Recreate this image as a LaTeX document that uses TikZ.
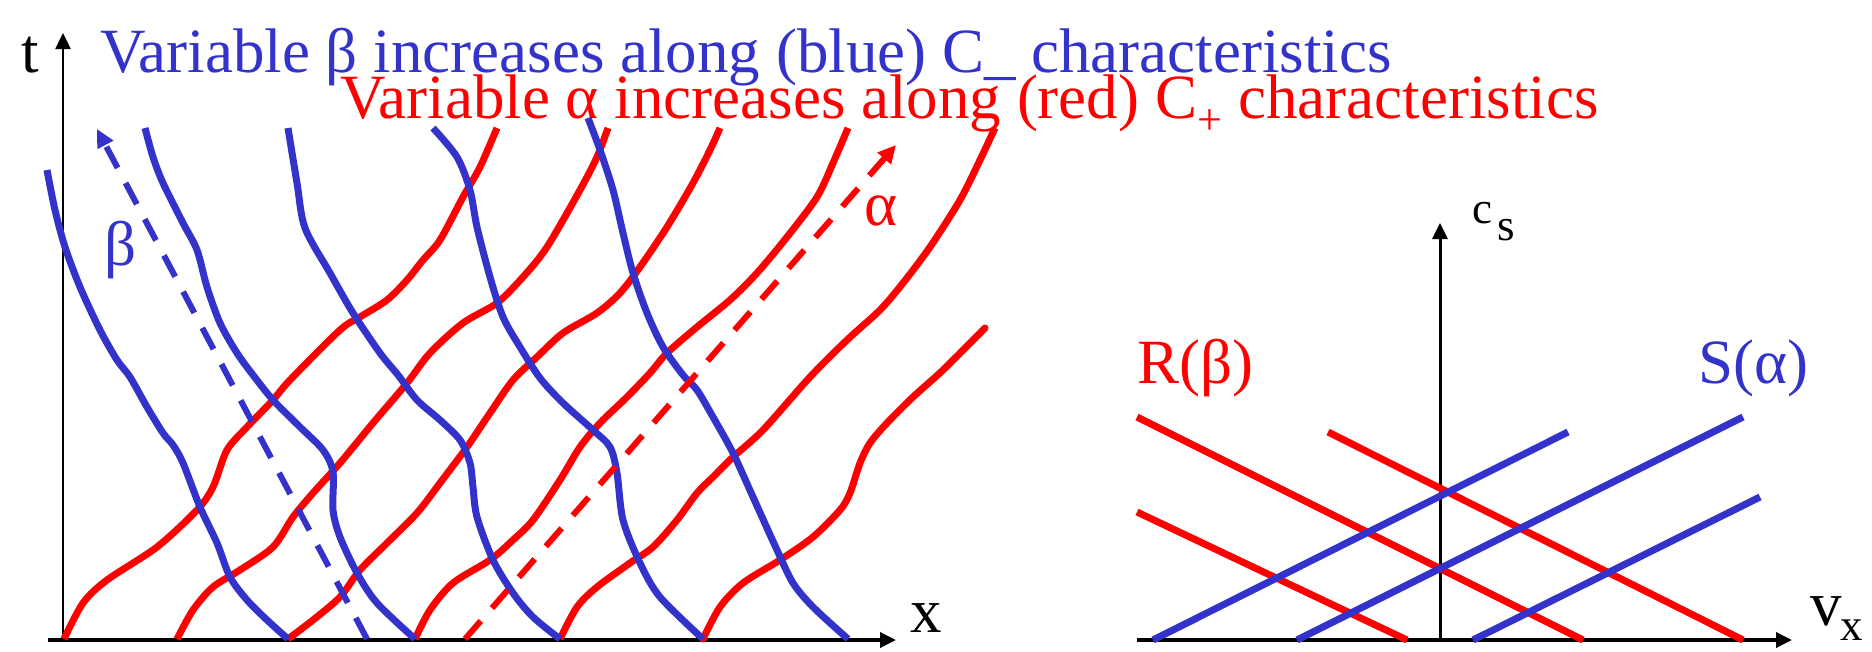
\documentclass[tikz,border=0pt]{standalone}
\usepackage{fontspec}
\setmainfont{Liberation Serif}
\usetikzlibrary{arrows.meta}
\definecolor{cblue}{RGB}{51,51,204}
\definecolor{cred}{RGB}{255,0,0}
\tikzset{
  redc/.style={draw=cred, line width=7pt},
  bluec/.style={draw=cblue, line width=7pt},
  smoothplot/.style={smooth, tension=0.5},
  axisline/.style={draw=black, line width=2.5pt, -{Triangle[length=16pt,width=15pt]}},
  lbl/.style={inner sep=0pt, anchor=base west, font=\fontsize{63}{63}\selectfont},
  sublbl/.style={inner sep=0pt, anchor=base west, font=\fontsize{45}{45}\selectfont},
  dashpat/.style={dash pattern=on 24pt off 17pt},
  rline/.style={line width=7pt}
}
\begin{document}
\begin{tikzpicture}[x=1pt,y=-1pt]
\useasboundingbox (0,0) rectangle (1872,651);

% ---------- left panel axes ----------
\coordinate (yb) at (63,641);
\coordinate (yt) at (63,33);
\coordinate (xl) at (48,640);
\coordinate (xr) at (896,640);
\draw[axisline, line width=2.5pt] (yb) -- (yt);
\draw[axisline, line width=3.5pt] (xl) -- (xr);
\node[lbl] (tl) at (21,72) {t};
\node[lbl] (xlab) at (910,632) {x};

% ---------- titles ----------
\node[lbl, text=cblue] (title1) at (100,72) {Variable β increases along (blue) C\_ characteristics};
\node[lbl, text=cred] (title2) at (340,118) {Variable α increases along (red) C\textsubscript{+} characteristics};

% ---------- red C+ characteristics ----------
\draw[redc] plot[smoothplot] coordinates {(64,639) (83,603) (107,580) (157,547) (197,510) (213,487) (227,450) (247,427) (273,400) (290,380) (340,330) (360,317) (387,300) (407,280) (423,260) (440,240) (463,197) (480,167) (497,128)};
\draw[redc] plot[smoothplot] coordinates {(177,639) (193,610) (213,587) (240,570) (273,547) (293,517) (313,493) (340,463) (373,423) (407,383) (430,353) (463,323) (497,303) (523,277) (547,247) (580,190) (597,157) (608,128)};
\draw[redc] plot[smoothplot] coordinates {(288,639) (313,620) (340,597) (360,570) (387,543) (417,513) (440,483) (467,447) (490,413) (513,380) (537,357) (563,333) (597,313) (620,293) (640,267) (667,227) (693,183) (710,150) (720,128)};
\draw[redc] plot[smoothplot] coordinates {(415,639) (430,610) (453,583) (490,560) (513,540) (533,520) (560,480) (580,447) (600,423) (627,397) (650,373) (667,353) (697,327) (730,300) (757,273) (787,237) (817,197) (833,163) (848,128)};
\draw[redc] plot[smoothplot] coordinates {(560,639) (577,607) (597,587) (630,563) (653,547) (677,520) (697,493) (713,477) (733,457) (763,430) (810,377) (847,340) (880,310) (903,283) (930,247) (960,200) (980,160) (995,128)};
\draw[redc, line cap=round] plot[smoothplot] coordinates {(703,639) (720,607) (743,583) (780,560) (813,537) (840,510) (850,493) (860,463) (870,443) (887,423) (913,397) (943,370) (985,328)};

% ---------- blue C- characteristics ----------
\draw[bluec] plot[smoothplot] coordinates {(47,170) (55,210) (65,247) (80,287) (100,330) (117,360) (130,377) (147,407) (163,433) (173,445) (183,463) (200,507) (217,543) (230,577) (247,600) (267,620) (288,639)};
\draw[bluec] plot[smoothplot] coordinates {(145,128) (153,157) (163,183) (183,223) (197,250) (207,287) (220,323) (237,353) (253,375) (273,400) (300,427) (323,450) (333,472) (333,510) (340,537) (357,573) (377,603) (415,639)};
\draw[bluec] plot[smoothplot] coordinates {(288,128) (297,183) (305,228) (330,273) (353,313) (380,353) (398,375) (417,400) (440,420) (460,440) (470,463) (473,487) (477,517) (493,560) (513,593) (533,617) (560,639)};
\draw[bluec] plot[smoothplot] coordinates {(433,128) (457,157) (470,190) (477,227) (490,277) (503,317) (520,347) (540,378) (563,403) (593,430) (610,447) (617,473) (623,520) (640,563) (660,597) (703,639)};
\draw[bluec] plot[smoothplot] coordinates {(588,118) (600,150) (613,190) (623,233) (633,273) (647,313) (663,347) (683,375) (697,390) (713,417) (733,453) (753,497) (777,550) (793,583) (813,607) (848,639)};

% ---------- dashed direction arrows ----------
\coordinate (bs) at (367,639);
\coordinate (be) at (97,129);
\coordinate (as) at (465,639);
\coordinate (ae) at (896,145);
\draw[bluec, line width=6pt, dashpat, -{Triangle[length=18pt,width=17pt]}] (bs) -- (be);
\draw[redc, line width=6pt, dashpat, -{Triangle[length=18pt,width=17pt]}] (as) -- (ae);
\node[lbl, text=cblue] (betal) at (104,265) {β};
\node[lbl, text=cred] (alphal) at (864,225) {α};

% ---------- right panel ----------
\coordinate (vb) at (1440,641);
\coordinate (vt) at (1440,223);
\coordinate (hl) at (1137,640);
\coordinate (hr) at (1792,640);
\draw[axisline, line width=3pt] (vb) -- (vt);
\draw[axisline, line width=3.5pt] (hl) -- (hr);
\node[sublbl] (cl) at (1472,223) {c};
\node[sublbl] (sl) at (1497,240) {s};
\node[lbl] (vl) at (1810,625) {v};
\node[sublbl] (vxl) at (1840,640) {x};
\node[lbl, text=cred] (rb) at (1137,383) {R(β)};
\node[lbl, text=cblue] (sa) at (1698,383) {S(α)};

\draw[redc, rline] (1137,417) -- (1583,640);
\draw[redc, rline] (1328,432) -- (1743,640);
\draw[redc, rline] (1137,512) -- (1407,640);
\draw[bluec, rline] (1153,640) -- (1568,432);
\draw[bluec, rline] (1297,640) -- (1743,417);
\draw[bluec, rline] (1473,640) -- (1760,497);
\end{tikzpicture}
\end{document}
